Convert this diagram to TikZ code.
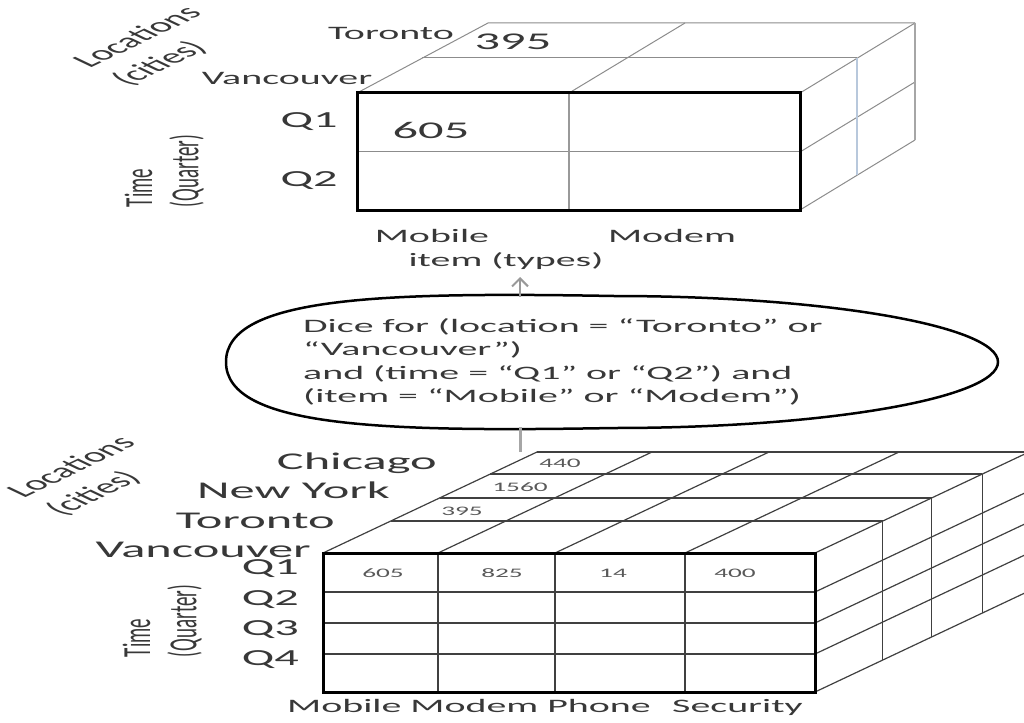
\documentclass[tikz,border=0pt]{standalone}
\usepackage{fontspec}
\setmainfont{Carlito}
\usepackage{graphicx}
\usetikzlibrary{arrows.meta,calc}

\definecolor{inkgray}{HTML}{383838}
\definecolor{gridgray}{HTML}{8C8C8C}
\definecolor{edgeblue}{HTML}{B8C8DC}
\newcommand{\wide}[1]{\scalebox{2.1}[1]{#1}}

\tikzset{
  lbl/.style={text=inkgray, inner sep=0pt},
  bigfont/.style={lbl, font=\fontsize{24}{28}\selectfont},
  qfont/.style={lbl, font=\fontsize{23}{27}\selectfont},
  midfont/.style={lbl, font=\fontsize{19}{22}\selectfont},
  dicefont/.style={lbl, font=\fontsize{19}{23.5}\selectfont},
  axisfont/.style={lbl, font=\fontsize{20}{26}\selectfont},
  cellnum/.style={text=black!65, inner sep=0pt, font=\fontsize{13}{15}\selectfont},
  frontface/.style={black, line width=3pt},
  faint/.style={gridgray, line width=1pt},
  cubeline/.style={black!75, line width=1.2pt},
}

\begin{document}
\begin{tikzpicture}[x=1pt,y=-1pt]
  \useasboundingbox (0,0) rectangle (1024,722);
  \clip (0,0) rectangle (1024,722);

  % diced cube (top)
  \draw[faint] (357,93) -- (488,23) -- (915,23);
  \draw[faint] (422,58) -- (857,58);
  \draw[faint] (569,93) -- (685,23);
  \draw[faint] (800,93) -- (915,23);
  \draw[faint] (800,152) -- (915,82);
  \draw[faint] (800,210) -- (915,140);
  \draw[gray!70, line width=2.5pt] (915,23) -- (915,140);
  \draw[edgeblue, line width=2.5pt] (857,58) -- (857,175);
  \draw[faint] (357,152) -- (800,152);
  \draw[gray!80, line width=2.5pt] (569,93) -- (569,210);
  \draw[frontface] (357,93) rectangle (800,210);

  \node[midfont, anchor=base] (tTor) at (391,40) {\wide{Toronto}};
  \node[bigfont] (t395) at (513,42) {\wide{395}};
  \node[midfont, anchor=base] (tVan) at (287,85) {\wide{Vancouver}};
  \node[qfont] (tQ1) at (309,122) {\wide{Q1}};
  \node[qfont] (tQ2) at (309,181) {\wide{Q2}};
  \node[bigfont] (t605) at (431,130) {\wide{605}};
  \node[midfont, anchor=base] (tMob) at (432,242) {\wide{Mobile}};
  \node[midfont, anchor=base] (tMod) at (672,242) {\wide{Modem}};
  \node[midfont, anchor=base] (tItem) at (506,266) {\wide{item (types)}};
  \node[axisfont] (tLoc) at (158,47)
    {\wide{\rotatebox{45}{\begin{tabular}{@{}l@{}}Locations\\(cities)\end{tabular}}}};
  \node[midfont] (tTime) at (166,171)
    {\wide{\rotatebox{90}{\begin{tabular}{@{}l@{}}Time\\(Quarter)\end{tabular}}}};

  % dice operation
  \draw[line width=2.5pt] (614,296) .. controls (826,296) and (998,326) .. (998,362)
    .. controls (998,398) and (826,428) .. (614,428)
    .. controls (385,432) and (226,428) .. (226,362)
    .. controls (226,296) and (385,292) .. cycle;
  \node[dicefont, anchor=west] (diceText) at (303,363) {\wide{\begin{tabular}{@{}l@{}}
    Dice for (location = “Toronto” or\\
    “Vancouver”)\\
    and (time = “Q1” or “Q2”) and\\
    (item = “Mobile” or “Modem”)\end{tabular}}};
  \coordinate (diceTop) at (520,297);
  \coordinate (diceBottom) at (520,427);
  \coordinate (upTip) at (520,277);
  \coordinate (cubeTop) at (520,452);
  \draw[gray!80, line width=2pt, -{Straight Barb[length=8pt,width=16pt]}]
    (diceTop) -- (upTip);
  \draw[gray!70, line width=3pt] (cubeTop) -- (diceBottom);

  % full cube (bottom)
  \foreach \dy in {32,55,79,101} {
    \pgfmathsetmacro{\dx}{\dy*2.119}
    \draw[cubeline] ({323+\dx},{553-\dy}) -- ({815+\dx},{553-\dy});
    \draw[cubeline] ({815+\dx},{553-\dy}) -- ({815+\dx},{692-\dy});
  }
  \foreach \x in {323,438,555,685,815}
    \draw[cubeline] (\x,553) -- ++(214,-101);
  \foreach \y in {592,623,654,692}
    \draw[cubeline] (815,\y) -- ++(214,-101);
  \foreach \x in {438,555,685}
    \draw[cubeline] (\x,553) -- (\x,692);
  \foreach \y in {592,623,654}
    \draw[cubeline] (323,\y) -- (815,\y);
  \draw[frontface] (323,553) rectangle (815,692);

  \node[cellnum] (b440) at (560,463) {\wide{440}};
  \node[cellnum] (b1560) at (520,487) {\wide{1560}};
  \node[cellnum] (b395) at (462,511) {\wide{395}};
  \node[cellnum] (b605) at (383,573) {\wide{605}};
  \node[cellnum] (b825) at (502,573) {\wide{825}};
  \node[cellnum] (b14) at (613,573) {\wide{14}};
  \node[cellnum] (b400) at (735,573) {\wide{400}};

  \node[bigfont, anchor=base east] (bChi) at (437,469) {\wide{Chicago}};
  \node[bigfont, anchor=base east] (bNY) at (390,498) {\wide{New York}};
  \node[bigfont, anchor=base east] (bTor) at (335,528) {\wide{Toronto}};
  \node[bigfont, anchor=base east] (bVan) at (311,557) {\wide{Vancouver}};
  \node[qfont, anchor=east] (bQ1) at (299,569) {\wide{Q1}};
  \node[qfont, anchor=east] (bQ2) at (299,600) {\wide{Q2}};
  \node[qfont, anchor=east] (bQ3) at (299,630) {\wide{Q3}};
  \node[qfont, anchor=east] (bQ4) at (299,660) {\wide{Q4}};
  \node[midfont, anchor=base west] (bItems) at (287,712) {\wide{Mobile Modem Phone}};
  \node[midfont, anchor=base west] (bSec) at (672,712) {\wide{Security}};
  \node[axisfont] (bLoc) at (92,477)
    {\wide{\rotatebox{45}{\begin{tabular}{@{}l@{}}Locations\\(cities)\end{tabular}}}};
  \node[midfont] (bTime) at (164,621)
    {\wide{\rotatebox{90}{\begin{tabular}{@{}l@{}}Time\\(Quarter)\end{tabular}}}};
\end{tikzpicture}
\end{document}
